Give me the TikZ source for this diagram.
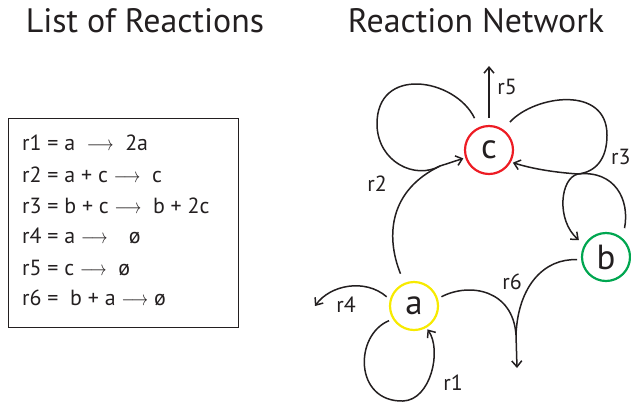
\documentclass[tikz,border=0pt]{standalone}
\usepackage{fontspec}
\setmainfont{PT Sans}
\usetikzlibrary{
  positioning,
  arrows.meta,
  calc
}
\definecolor{rnRed}{HTML}{ED1C24}
\definecolor{rnGreen}{HTML}{00A650}
\definecolor{rnYellow}{HTML}{F7EA00}
\definecolor{rnText}{HTML}{231F20}
\newcommand{\rarr}{\scalebox{0.8}[1]{$\longrightarrow$}}

\begin{document}
\begin{tikzpicture}[
  x=1bp, y=-1bp,
  every node/.style={font=\fontsize{22}{26}\selectfont, text=rnText, inner sep=0pt},
  title/.style={font=\fontsize{34}{40}\selectfont, anchor=base},
  row/.style={anchor=base west},
  species/.style={
    circle, line width=2.2bp,
    minimum size=48bp, outer sep=3bp,
    font=\fontsize{35}{40}\selectfont
  },
  rxn/.style={line width=1.5bp, draw=rnText},
  arrow/.style={rxn, -{Straight Barb[length=6bp, width=10bp]}}
]
 \useasboundingbox (0,0) rectangle (631,409);

 % Titles
 \node[title] (t1) at (145,32) {List of Reactions};
 \node[title] (t2) at (476,32) {Reaction Network};

 % List of reactions -- 6 rows in a box
 \node[draw=rnText, line width=0.8bp, minimum width=230bp, minimum height=209bp] (list) at (123,222.5) {};
 \node[row] (l1) at (22,150) {r1 = a \ \rarr\ \ 2a};
 \node[row] (l2) at (22,182) {r2 = a + c \rarr\ \ c};
 \node[row] (l3) at (22,213) {r3 = b + c \rarr\ \ b + 2c};
 \node[row] (l4) at (22,243) {r4 = a \rarr\ \ \ \,ø};
 \node[row] (l5) at (22,275) {r5 = c \rarr\ \ ø};
 \node[row] (l6) at (22,305) {r6 = \ b + a \rarr\ ø};

 % Species
 \node[species, draw=rnRed]    (c) at (489,150) {c};
 \node[species, draw=rnYellow] (a) at (414,306) {a};
 \node[species, draw=rnGreen]  (b) at (606,257) {b};

 % Free ends and merge points
 \coordinate (r5end) at (489,66);
 \coordinate (r4end) at (315,306);
 \coordinate (r6end) at (517,368);
 \coordinate (m2) at (440,166);
 \coordinate (m3) at (578,174);
 \coordinate (m6) at (516,335);

 % r5: c -> 0
 \draw[arrow, shorten <=5bp] (c.north) -- (r5end);
 \node (r5) at (507,87) {r5};

 % r2: a + c -> c
 \draw[rxn, shorten <=8bp] (c.114) .. controls (455,78) and (376,65) .. (377,125)
   .. controls (378,162) and (415,180) .. (m2);
 \draw[rxn, shorten <=8bp] (a.113) .. controls (385,235) and (390,190) .. (m2);
 \draw[arrow] (m2) -- (c);
 \node (r2) at (377,184) {r2};

 % r3: b + c -> b + 2c
 \draw[rxn, shorten <=8bp] (c.55) .. controls (535,95) and (607,85) .. (607,135)
   .. controls (607,160) and (595,172) .. (m3);
 \draw[rxn, shorten <=8bp] (b.51) .. controls (630,200) and (615,170) .. (m3);
 \draw[arrow] (m3) .. controls (550,172) and (530,168) .. (c.332);
 \draw[arrow, shorten >=5bp] (m3) .. controls (560,178) and (556,220) .. (b.150);
 \node[anchor=west] (r3) at (611,157) {r3};

 % r4: a -> 0
 \draw[arrow, shorten <=2bp] (a.163) .. controls (365,278) and (330,285) .. (r4end);
 \node (r4) at (346,305) {r4};

 % r1: a -> 2a
 \draw[rxn, shorten <=2bp] (a.211) .. controls (354,335) and (354,402) .. (403,401);
 \draw[arrow] (403,401) .. controls (431,400) and (442,350) .. (a.300);
 \node (r1) at (453,383) {r1};

 % r6: b + a -> 0
 \draw[rxn, shorten <=2bp] (a.18) .. controls (470,282) and (513,290) .. (m6);
 \draw[rxn, shorten <=2bp] (b.186) .. controls (545,258) and (518,285) .. (m6);
 \draw[arrow] (m6) -- (r6end);
 \node (r6) at (512,282) {r6};
\end{tikzpicture}
\end{document}
